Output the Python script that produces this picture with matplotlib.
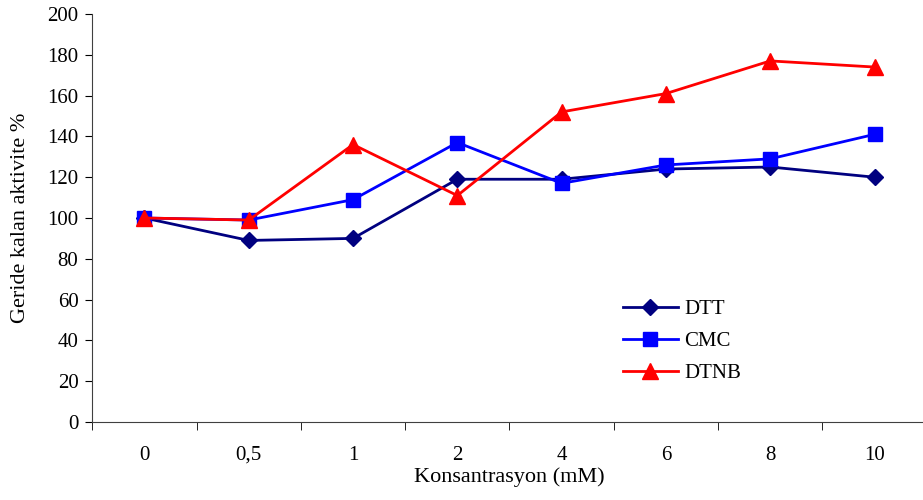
import matplotlib.pyplot as plt
import numpy as np

# DATA
categories = ['0', '0,5', '1', '2', '4', '6', '8', '10']
dtt = [100, 89, 90, 119, 119, 124, 125, 120]
cmc = [100, 99, 109, 137, 117, 126, 129, 141]
dtnb = [100, 99, 136, 111, 152, 161, 177, 174]

plt.rcParams['font.family'] = ['Liberation Serif', 'DejaVu Serif']

fig = plt.figure(figsize=(9.23, 5), dpi=100)
ax = fig.add_axes([0.1, 0.156, 0.904, 0.816])

x = np.arange(len(categories))
ax.plot(x, dtt, color='#000080', marker='D', markersize=8, linewidth=2, label='DTT')
ax.plot(x, cmc, color='#0000ff', marker='s', markersize=10, linewidth=2, label='CMC')
ax.plot(x, dtnb, color='#ff0000', marker='^', markersize=11, linewidth=2, label='DTNB')

ax.set_xlim(-0.5, len(categories) - 0.5)
ax.set_ylim(0, 200)
ax.set_yticks(np.arange(0, 201, 20))

# category labels centred, tick marks between categories
ax.set_xticks(x)
ax.set_xticklabels(categories)
ax.set_xticks(np.arange(-0.5, len(categories)), minor=True)
ax.tick_params(axis='x', which='major', length=0, pad=17, labelsize=15)
ax.tick_params(axis='x', which='minor', length=6, direction='out')
ax.tick_params(axis='y', length=5, direction='out', pad=5, labelsize=15)

for side in ['top', 'right']:
    ax.spines[side].set_visible(False)
for side in ['left', 'bottom']:
    ax.spines[side].set_color('#404040')

ax.set_xlabel('Konsantrasyon (mM)', fontsize=16, labelpad=2)
ax.set_ylabel('Geride kalan aktivite %', fontsize=16, labelpad=12)

ax.legend(loc='center left', bbox_to_anchor=(0.613, 0.198), frameon=False, fontsize=15,
          handlelength=2.65, handletextpad=0.3, labelspacing=0.6)

fig.savefig('out.png', dpi=100)
